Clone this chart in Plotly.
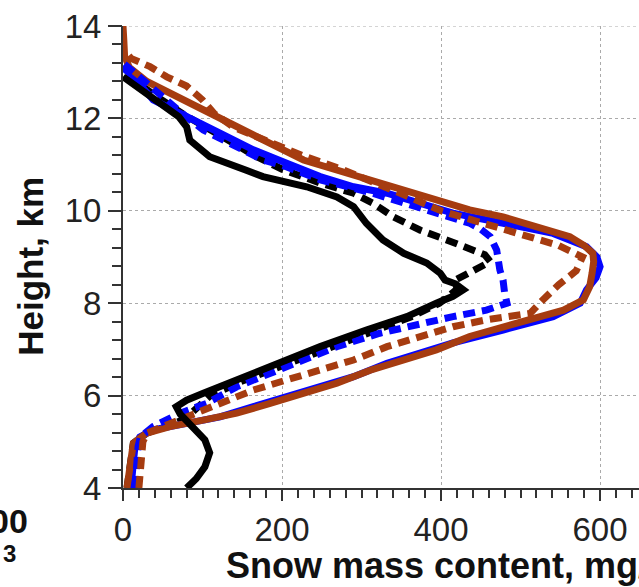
import plotly.graph_objects as go

# Vertical profiles of snow mass content (height in km, content in mg/m3)
black_solid_h = [4.0, 4.2, 4.46, 4.76, 5.04, 5.22, 5.4, 5.6, 5.76, 5.9, 6.05, 6.34, 6.7, 7.06, 7.42, 7.71,
                 8.0, 8.15, 8.29, 8.42, 8.5, 8.65, 8.87, 9.08, 9.37, 9.73, 10.09, 10.3, 10.52, 10.74, 10.88,
                 11.17, 11.53, 11.82, 12.04, 12.33, 12.6, 12.9]
black_solid_v = [80, 92, 103, 109, 103, 93, 82, 72, 67, 80, 101, 143, 197, 248, 306, 357,
                 394, 415, 428, 418, 405, 399, 382, 353, 327, 306, 290, 269, 231, 176, 155,
                 109, 84, 80, 70, 46, 22, 0]

black_dash_h = [4.0, 4.53, 4.97, 5.19, 5.33, 5.5, 5.75, 6.0, 6.3, 6.7, 7.0, 7.4, 7.7, 8.0, 8.3, 8.5, 8.7, 8.9,
                9.05, 9.15, 9.37, 9.58, 9.87, 10.16, 10.38, 10.6, 10.9, 11.2, 11.46, 11.8, 12.1, 12.5,
                12.85, 13.1]
black_dash_v = [5, 9, 13, 30, 55, 78, 95, 110, 148, 208, 252, 318, 362, 398, 420, 418, 440, 462,
                455, 441, 407, 374, 340, 315, 290, 248, 200, 165, 138, 105, 75, 40,
                12, 0]

blue_dash_h = [4.0, 4.5, 4.9, 5.11, 5.33, 5.62, 5.83, 6.19, 6.48, 6.77, 7.06, 7.35, 7.57, 7.71, 7.85,
               8.0, 8.22, 8.5, 8.72, 9.15, 9.44, 9.6, 9.73, 9.95, 10.16, 10.4, 10.67, 10.95, 11.1,
               11.46, 11.75, 12.1, 12.4, 12.75, 13.05, 13.2]
blue_dash_v = [15, 17, 19, 22, 38, 72, 105, 143, 185, 227, 269, 323, 374, 415, 457,
               483, 480, 478, 474, 470, 462, 450, 436, 394, 353, 310, 248, 206, 176,
               135, 101, 75, 55, 30, 13, 0]

blue_solid_h = [4.0, 4.5, 4.9, 5.1, 5.26, 5.4, 5.54, 5.76, 5.98, 6.19, 6.41, 6.7, 6.92, 7.14, 7.42,
                7.71, 8.0, 8.29, 8.55, 8.79, 9.0, 9.22, 9.51, 9.66, 9.8, 9.95, 10.16, 10.38, 10.52,
                10.74, 11.03, 11.32, 11.68, 12.04, 12.4, 12.9, 13.1]
blue_solid_v = [10, 12, 15, 21, 38, 80, 122, 164, 206, 248, 290, 332, 374, 415, 478,
                541, 575, 583, 595, 600, 596, 583, 541, 499, 457, 415, 374, 332, 290,
                248, 206, 164, 122, 80, 38, 13, 0]

brown_solid_h = [4.0, 4.53, 4.97, 5.19, 5.33, 5.47, 5.62, 5.83, 6.05, 6.27, 6.55, 6.77, 6.99, 7.28,
                 7.57, 7.85, 8.07, 8.36, 8.65, 8.9, 9.08, 9.25, 9.44, 9.66, 9.87, 10.02, 10.23,
                 10.45, 10.67, 10.88, 11.1, 11.46, 11.82, 12.18, 12.5, 12.8, 13.1, 13.35, 13.7, 14.0]
brown_solid_v = [5, 9, 13, 30, 59, 101, 143, 185, 227, 269, 311, 353, 394, 436,
                 499, 554, 579, 587, 590, 592, 591, 580, 562, 520, 478, 436, 394,
                 353, 311, 269, 227, 185, 143, 101, 62, 30, 8, 2, 1, 0]

brown_dash_h = [4.0, 4.3, 4.76, 5.0, 5.19, 5.33, 5.54, 5.83, 6.12, 6.34, 6.55, 6.77, 7.06, 7.28, 7.49,
                7.64, 7.78, 8.07, 8.4, 8.7, 9.0, 9.25, 9.5, 9.75, 10.0, 10.3, 10.6, 10.9, 11.2, 11.5,
                11.8, 12.1, 12.4, 12.7, 12.9, 13.12, 13.3, 13.5]
brown_dash_v = [20, 21, 22, 25, 30, 51, 80, 122, 164, 206, 248, 290, 332, 374, 415,
                457, 512, 528, 548, 570, 578, 548, 500, 445, 400, 360, 320, 275, 225, 180,
                140, 115, 100, 80, 55, 34, 10, 0]

x_ticks = [0, 200, 400, 600]
y_ticks = [4, 6, 8, 10, 12, 14]
x_minor_ticks = [20 * i for i in range(33)]
y_minor_ticks = [round(4 + 0.4 * i, 1) for i in range(26)]
x_range = [0, 649]
y_range = [4, 14]

BLACK = "#000000"
BLUE = "#0505ff"
BROWN = "#a63c10"
AXIS = "#333333"
DASH = "12px,7px"

# drawing order: lowest layer first; last one sits on the labelled axes
profiles = [
    (black_dash_v, black_dash_h, BLACK, DASH, "x", "y"),
    (blue_solid_v, blue_solid_h, BLUE, "solid", "x", "y"),
    (brown_solid_v, brown_solid_h, BROWN, "solid", "x", "y"),
    (blue_dash_v, blue_dash_h, BLUE, DASH, "x", "y"),
    (brown_dash_v, brown_dash_h, BROWN, DASH, "x", "y"),
    (black_solid_v, black_solid_h, BLACK, "solid", "x2", "y2"),
]

fig = go.Figure()
for xs, ys, color, dash, xa, ya in profiles:
    fig.add_trace(go.Scatter(x=xs, y=ys, mode="lines", showlegend=False, xaxis=xa, yaxis=ya,
                             line=dict(color=color, width=7, dash=dash)))

FONT = "Liberation Sans, Arial, sans-serif"
tick_font = dict(family=FONT, size=33, color="#222222")

fig.update_layout(
    # base axes: axis lines and the short (minor) tick marks
    xaxis=dict(range=x_range, tickmode="array", tickvals=x_minor_ticks,
               ticktext=[" "] * len(x_minor_ticks), ticks="outside", ticklen=8,
               tickwidth=2, tickcolor=AXIS, showgrid=False, zeroline=False,
               showline=True, linecolor=AXIS, linewidth=1.5),
    yaxis=dict(range=y_range, tickmode="array", tickvals=y_minor_ticks,
               ticktext=[" "] * len(y_minor_ticks), ticks="outside", ticklen=9,
               tickwidth=2, tickcolor=AXIS, showgrid=False, zeroline=False,
               showline=True, linecolor=AXIS, linewidth=1.5),
    # overlaid axes: long ticks, labels and dotted grid
    xaxis2=dict(overlaying="x", anchor="y2", side="bottom", range=x_range,
                tickmode="array", tickvals=x_ticks, ticktext=[str(t) for t in x_ticks],
                ticks="outside", ticklen=12, tickwidth=1.6, tickcolor=AXIS, tickfont=tick_font,
                showgrid=True, gridcolor="#aaaaaa", gridwidth=1, griddash="dot",
                showline=False, zeroline=False),
    yaxis2=dict(overlaying="y", anchor="x2", side="left", range=y_range,
                tickmode="array", tickvals=y_ticks, ticktext=[str(t) for t in y_ticks],
                ticks="outside", ticklen=14, tickwidth=1.6, tickcolor=AXIS, tickfont=tick_font,
                showgrid=True, gridcolor="#aaaaaa", gridwidth=1, griddash="dot",
                showline=False, zeroline=False),
)

# dotted grid line along the top edge of the plot
fig.add_shape(type="line", xref="paper", yref="y", x0=0, x1=1, y0=14, y1=14,
              line=dict(color="#aaaaaa", width=1, dash="dot"), layer="below")

title_font = dict(family=FONT, size=36, color="#111111", weight="bold")
annotations = [
    dict(text="Height, km", x=-0.1783, y=0.481, textangle=-90,
         xanchor="center", yanchor="middle", font=dict(family=FONT, size=35, color="#111111", weight="bold")),
    dict(text="Snow mass content, mg/m<sup>3</sup>", x=0.1957, y=-0.163,
         xanchor="left", yanchor="middle", font=title_font),
    dict(text="00", x=-0.180, y=-0.0714, xanchor="right", yanchor="middle",
         font=dict(family=FONT, size=34, color="#111111", weight="bold")),
    dict(text="3", x=-0.2035, y=-0.142, xanchor="right", yanchor="middle",
         font=dict(family=FONT, size=24, color="#111111", weight="bold")),
]
for a in annotations:
    a.update(xref="paper", yref="paper", showarrow=False)

fig.update_layout(
    width=639, height=587,
    margin=dict(l=123, r=0, t=26, b=99),
    paper_bgcolor="white", plot_bgcolor="white",
    annotations=annotations,
)

fig.write_html("out.html")
